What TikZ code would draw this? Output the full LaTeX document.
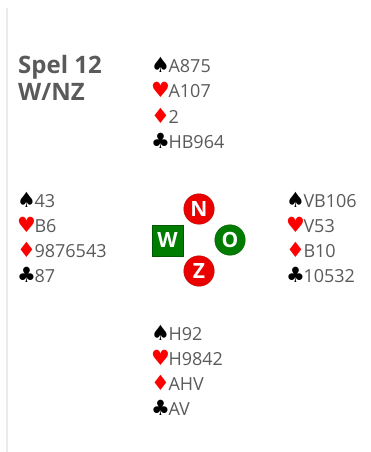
\documentclass[tikz,border=0pt]{standalone}
\usepackage{fontspec}
\usepackage{tikz}
\setmainfont{Open Sans}
\newfontfamily\symfont{DejaVu Sans}
\definecolor{cardgray}{RGB}{90, 90, 90}
\definecolor{windred}{RGB}{235, 0, 0}
\definecolor{windgreen}{RGB}{0, 125, 0}

\newcommand{\suitsym}[2]{{\symfont\fontsize{21}{20}\selectfont\color{#1}#2}\kern-1.5pt}
\newcommand{\suitS}{\suitsym{black}{♠}}
\newcommand{\suitH}{\suitsym{red}{♥}}
\newcommand{\suitD}{\suitsym{red}{♦}}
\newcommand{\suitC}{\suitsym{black}{♣}}

\begin{document}
\begin{tikzpicture}[
        x=1pt, y=-1pt,
        hand/.style={anchor=base west, inner sep=0pt, text=cardgray,
                     font=\fontsize{18}{20}\selectfont},
        title/.style={anchor=base west, inner sep=0pt, text=cardgray,
                      font=\fontsize{24}{24}\selectfont\bfseries},
        wind/.style={circle, draw=red!70!black, line width=0.4pt, fill=windred,
                     minimum size=30.5pt, inner sep=0pt, text=white,
                     font=\fontsize{21}{20}\selectfont\bfseries},
    ]
        \useasboundingbox (0,0) rectangle (370,452);
        \draw[black!8, line width=1.5pt] (7,8) -- (7,452);

        \node[title] (spel)  at (18,74)  {Spel 12};
        \node[title] (gever) at (18,100) {W/NZ};

        % handen: naam/x/y/schoppen/harten/ruiten/klaveren
        \foreach \hand/\x/\y/\sS/\sH/\sD/\sC in {n/151/72.5/A875/A107/2/HB964,
                w/17/207/43/B6/9876543/87, o/286/207/VB106/V53/B10/10532,
                z/151/340/H92/H9842/AHV/AV} {
            \node[hand] (\hand1) at (\x,\y)      {\suitS\sS};
            \node[hand] (\hand2) at (\x,\y+25.3) {\suitH\sH};
            \node[hand] (\hand3) at (\x,\y+50.6) {\suitD\sD};
            \node[hand] (\hand4) at (\x,\y+75.9) {\suitC\sC};
        }

        \node[wind]                         (N) at (199,209) {N};
        \node[wind]                         (Z) at (199,271) {Z};
        \node[wind, fill=windgreen, draw=windgreen!70!black] (O) at (230,240) {O};
        \node[wind, rectangle, fill=windgreen, draw=windgreen!70!black,
              minimum size=31pt]            (W) at (167.5,240.5) {W};
    \end{tikzpicture}
\end{document}
